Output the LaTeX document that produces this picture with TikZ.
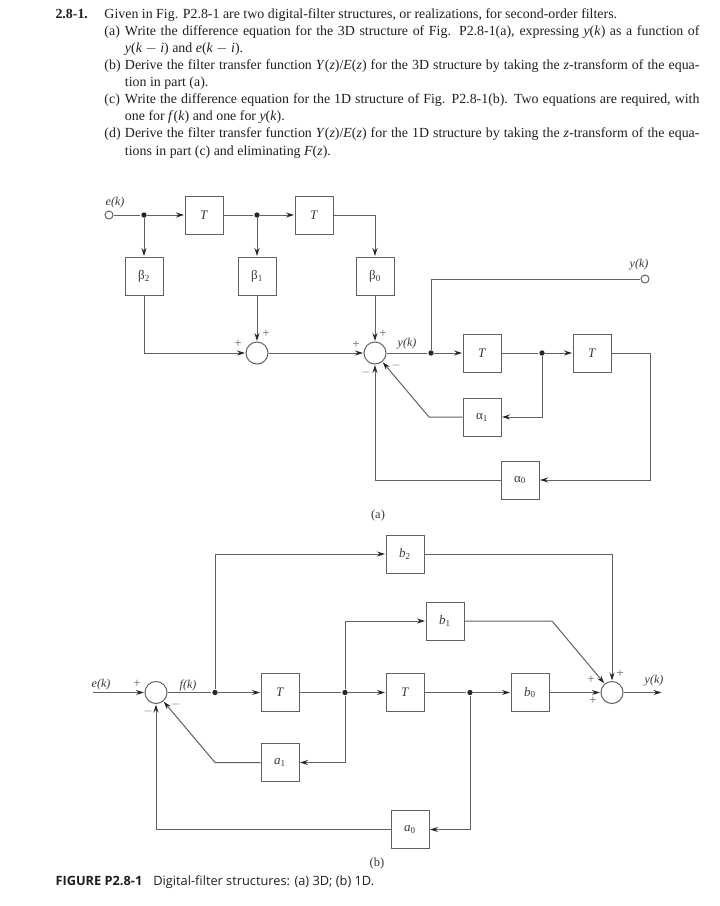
\documentclass[tikz,border=0pt]{standalone}
\usepackage{fontspec}
\setmainfont{Liberation Serif}
\newfontfamily\capfont{Open Sans}
\usetikzlibrary{positioning,arrows.meta}
\definecolor{wiregray}{gray}{0.38}
\definecolor{inkgray}{gray}{0.22}
\newcommand{\subs}[1]{\textsubscript{#1}}
\newcommand{\itemline}[2]{\makebox[20.5pt][l]{#1}\makebox[574.5pt][s]{#2}}
\newcommand{\moreline}[1]{\hspace*{20.5pt}#1}
\tikzset{
  wires/.style={>={Stealth[length=8pt,width=5pt,color=black!85]},shorten >=0.5pt,on grid,line width=1pt,draw=wiregray,text=inkgray},
  blk/.style={draw,rectangle,minimum size=38pt,inner sep=1pt,font=\fontsize{13}{15}\selectfont},
  sumnode/.style={draw,circle,minimum size=22pt,inner sep=0pt},
  jdot/.style={circle,fill=black!85,draw=none,minimum size=5.4pt,inner sep=0pt},
  termnode/.style={draw,circle,minimum size=8pt,inner sep=0pt},
  lab/.style={font=\fontsize{12}{14}\selectfont\itshape,inner sep=0pt},
  sgn/.style={font=\fontsize{13}{14}\selectfont,inner sep=0pt,text=wiregray},
  prob/.style={anchor=north west,inner sep=0pt,align=left,text=black!88,
    font=\fontsize{13.9}{17.1}\selectfont},
}
\begin{document}
\begin{tikzpicture}[wires]
  \useasboundingbox (0pt,0pt) rectangle (720pt,-906pt);
  % problem text
  \node[prob] (probtext) at (55pt,-8pt) {\makebox[49pt][l]{\textbf{2.8-1.}}Given in Fig. P2.8-1 are two digital-filter structures, or realizations, for second-order filters.\\
    \hspace*{49pt}\itemline{(a)}{Write the difference equation for the 3D structure of Fig. P2.8-1(a), expressing \textit{y}(\textit{k}) as a function of}\\
    \hspace*{49pt}\moreline{\textit{y}(\textit{k} $-$ \textit{i}) and \textit{e}(\textit{k} $-$ \textit{i}).}\\
    \hspace*{49pt}\itemline{(b)}{Derive the filter transfer function \textit{Y}(\textit{z})/\textit{E}(\textit{z}) for the 3D structure by taking the \textit{z}-transform of the equa-}\\
    \hspace*{49pt}\moreline{tion in part (a).}\\
    \hspace*{49pt}\itemline{(c)}{Write the difference equation for the 1D structure of Fig. P2.8-1(b). Two equations are required, with}\\
    \hspace*{49pt}\moreline{one for \textit{f}(\textit{k}) and one for \textit{y}(\textit{k}).}\\
    \hspace*{49pt}\itemline{(d)}{Derive the filter transfer function \textit{Y}(\textit{z})/\textit{E}(\textit{z}) for the 1D structure by taking the \textit{z}-transform of the equa-}\\
    \hspace*{49pt}\moreline{tions in part (c) and eliminating \textit{F}(\textit{z}).}};

  % structure (a)
  \node[termnode] (eA) at (109pt,-215pt) {};
  \node[jdot,right=35pt of eA] (jA1) {};
  \node[blk,right=60pt of jA1] (TA1) {\textit{T}};
  \node[jdot,right=53pt of TA1] (jA2) {};
  \node[blk,right=57pt of jA2] (TA2) {\textit{T}};
  \node[blk,below=61pt of jA1] (bA2) {β\subs{2}};
  \node[blk,below=61pt of jA2] (bA1) {β\subs{1}};
  \node[blk,below right=61pt and 61pt of TA2] (bA0) {β\subs{0}};
  \node[sumnode,below=77pt of bA1] (sumA1) {};
  \node[sumnode,below=77pt of bA0] (sumA2) {};
  \node[jdot,right=56pt of sumA2] (jA3) {};
  \node[blk,right=51pt of jA3] (TA3) {\textit{T}};
  \node[jdot,right=60pt of TA3] (jA4) {};
  \node[blk,right=50pt of jA4] (TA4) {\textit{T}};
  \node[termnode,above right=74pt and 214pt of jA3] (yA) {};
  \node[blk,below=64pt of TA3] (aA1) {α\subs{1}};
  \node[blk,below right=127pt and 38pt of TA3] (aA0) {α\subs{0}};
  \coordinate[left=53pt of aA1] (bendA);
  \coordinate[right=58pt of TA4] (cnrA);

  \draw (eA) -- (jA1);
  \draw[->] (jA1) -- (TA1);
  \draw (TA1) -- (jA2);
  \draw[->] (jA2) -- (TA2);
  \draw[->] (jA1) -- (bA2);
  \draw[->] (jA2) -- (bA1);
  \draw[->] (TA2) -| (bA0);
  \draw[->] (bA2) |- (sumA1);
  \draw[->] (bA1) -- (sumA1);
  \draw[->] (bA0) -- (sumA2);
  \draw[->] (sumA1) -- (sumA2);
  \draw (sumA2) -- (jA3);
  \draw (jA3) |- (yA);
  \draw[->] (jA3) -- (TA3);
  \draw (TA3) -- (jA4);
  \draw[->] (jA4) -- (TA4);
  \draw[->] (jA4) |- (aA1);
  \draw[->] (TA4) -- (cnrA) |- (aA0);
  \draw[->] (aA1) -- (bendA) -- (sumA2);
  \draw[->] (aA0) -| (sumA2);

  \node[lab,above right=12pt and 6pt of eA] (eAlab) {e(k)};
  \node[lab,above right=14pt and -6pt of yA] (yAlab) {y(k)};
  \node[lab,above right=9pt and 32pt of sumA2] (yAmid) {y(k)};
  \node[sgn,above left=9pt and 19pt of sumA1] (sA1) {+};
  \node[sgn,above right=19pt and 9pt of sumA1] (sA2) {+};
  \node[sgn,above left=8pt and 19pt of sumA2] (sA3) {+};
  \node[sgn,above right=19pt and 8pt of sumA2] (sA4) {+};
  \node[sgn,below left=19pt and 9pt of sumA2] (sA5) {$-$};
  \node[sgn,below right=12pt and 21pt of sumA2] (sA6) {$-$};
  \node[font=\fontsize{12.5}{14}\selectfont,inner sep=0pt,below left=35pt and 142pt of aA0] (capA) {(a)};

  % structure (b)
  \node[sumnode] (sumB) at (156pt,-692.5pt) {};
  \coordinate[left=63pt of sumB] (inB);
  \node[jdot,right=59pt of sumB] (jB1) {};
  \node[blk,right=65pt of jB1] (TB1) {\textit{T}};
  \node[jdot,right=65pt of TB1] (jB2) {};
  \node[blk,right=60pt of jB2] (TB2) {\textit{T}};
  \node[jdot,right=65pt of TB2] (jB3) {};
  \node[blk,right=60pt of jB3] (bB0) {\textit{b}\subs{0}};
  \node[sumnode,right=82pt of bB0] (sumB2) {};
  \coordinate[right=50pt of sumB2] (outB);
  \node[blk,below=70pt of TB1] (aB1) {\textit{a}\subs{1}};
  \node[blk,below right=137pt and 5pt of TB2] (aB0) {\textit{a}\subs{0}};
  \node[blk,above=138.5pt of TB2] (bB2) {\textit{b}\subs{2}};
  \node[blk,above right=71.5pt and 40pt of TB2] (bB1) {\textit{b}\subs{1}};
  \coordinate[left=65pt of aB1] (bendB);
  \coordinate[right=107pt of bB1] (bendC);

  \draw[->] (inB) -- (sumB);
  \draw (sumB) -- (jB1);
  \draw[->] (jB1) -- (TB1);
  \draw (TB1) -- (jB2);
  \draw[->] (jB2) -- (TB2);
  \draw (TB2) -- (jB3);
  \draw[->] (jB3) -- (bB0);
  \draw[->] (bB0) -- (sumB2);
  \draw[->] (sumB2) -- (outB);
  \draw[->] (jB1) |- (bB2);
  \draw[->] (bB2) -| (sumB2);
  \draw[->] (jB2) |- (bB1);
  \draw[->] (bB1) -- (bendC) -- (sumB2);
  \draw[->] (jB2) |- (aB1);
  \draw[->] (aB1) -- (bendB) -- (sumB);
  \draw[->] (jB3) |- (aB0);
  \draw[->] (aB0) -| (sumB);

  \node[lab,above left=8pt and 55pt of sumB] (eBlab) {e(k)};
  \node[lab,above right=7pt and 32pt of sumB] (fBlab) {f(k)};
  \node[lab,above right=12pt and 42pt of sumB2] (yBlab) {y(k)};
  \node[sgn,above left=9pt and 19pt of sumB] (sB1) {+};
  \node[sgn,below left=19pt and 8pt of sumB] (sB2) {$-$};
  \node[sgn,below right=12pt and 20pt of sumB] (sB3) {$-$};
  \node[sgn,above left=13pt and 21pt of sumB2] (sB4) {+};
  \node[sgn,above right=19pt and 8pt of sumB2] (sB5) {+};
  \node[sgn,below left=8pt and 19pt of sumB2] (sB6) {+};
  \node[font=\fontsize{12.5}{14}\selectfont,inner sep=0pt,below left=34pt and 33pt of aB0] (capB) {(b)};

  % figure caption
  \node[anchor=base west,inner sep=0pt,text=black!88,font=\capfont\fontsize{12.8}{15}\selectfont] (figcap)
    at (55pt,-885pt) {\textbf{FIGURE P2.8-1}\hspace{11pt}Digital-filter structures: (a) 3D; (b) 1D.};
\end{tikzpicture}
\end{document}
